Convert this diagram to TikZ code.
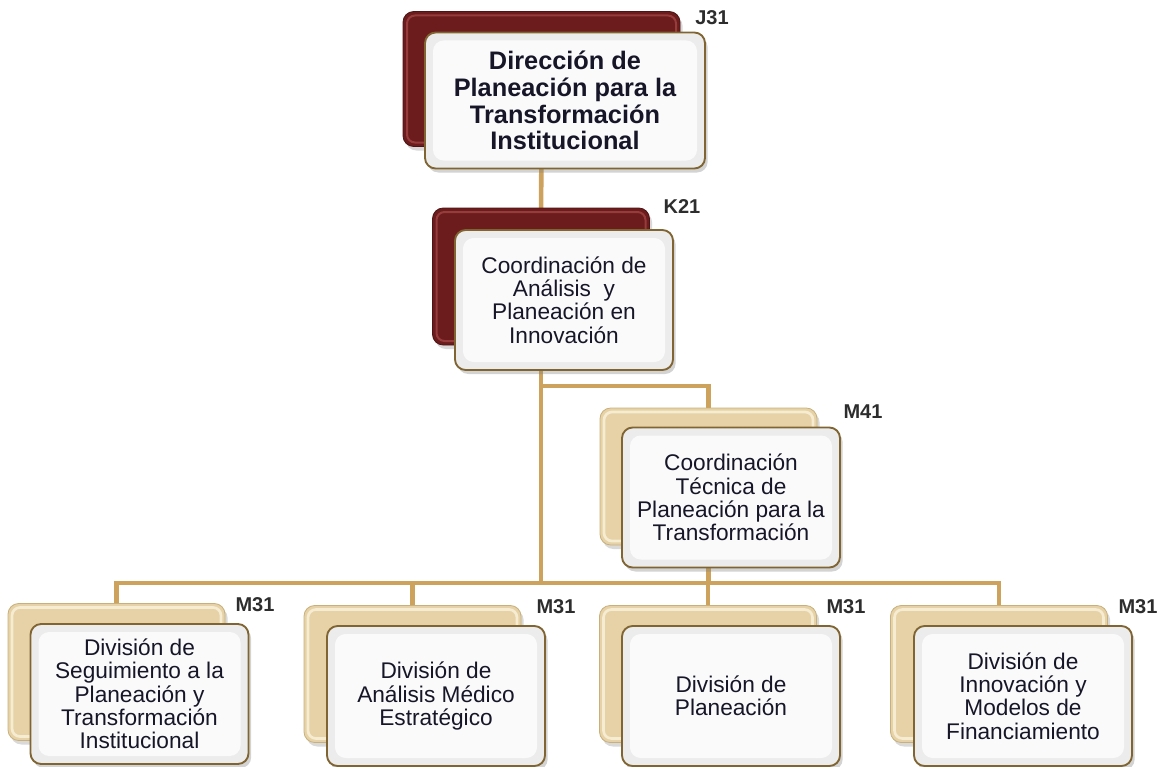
\documentclass[tikz,border=0pt]{standalone}
\usepackage{fontspec}
\setmainfont{Liberation Sans}
\usetikzlibrary{shadows}
\definecolor{conncol}{RGB}{204,162,92}
\definecolor{darkred}{RGB}{108,28,28}
\definecolor{darkredhi}{RGB}{150,60,60}
\definecolor{goldfill}{RGB}{230,210,166}
\definecolor{goldhi}{RGB}{246,236,210}
\definecolor{goldedge}{RGB}{200,176,124}
\definecolor{frontedge}{RGB}{128,100,50}
\definecolor{frontgrey}{RGB}{236,236,236}
\definecolor{frontin}{RGB}{250,250,250}
\definecolor{textcol}{RGB}{22,22,40}
\definecolor{lblcol}{RGB}{45,45,45}
\pgfdeclarelayer{bg}
\pgfsetlayers{bg,main}
\tikzset{
  conn/.style={draw=conncol, line width=3.4pt},
  backbox/.style={rounded corners=8pt, inner sep=0pt,
    minimum width=162.75pt, minimum height=102.75pt,
    drop shadow={opacity=0.3, shadow xshift=2pt, shadow yshift=-3pt}},
  redback/.style={backbox, fill=darkred, draw=darkred!70!black, line width=0.6pt,
    path picture={\draw[darkredhi, line width=1.5pt, rounded corners=6pt]
      ([shift={(3pt,-3pt)}]path picture bounding box.north west) rectangle
      ([shift={(-3pt,3pt)}]path picture bounding box.south east);}},
  goldback/.style={backbox, fill=goldfill, draw=goldedge, line width=0.6pt,
    path picture={\draw[goldhi, line width=2pt, rounded corners=6pt]
      ([shift={(3pt,-3pt)}]path picture bounding box.north west) rectangle
      ([shift={(-3pt,3pt)}]path picture bounding box.south east);}},
  frontbox/.style={rounded corners=8pt, inner sep=0pt,
    minimum width=163.5pt, minimum height=105pt,
    fill=frontgrey, draw=frontedge, line width=1.4pt,
    drop shadow={opacity=0.35, shadow xshift=2pt, shadow yshift=-3pt},
    align=center, text=textcol, font=\fontsize{17}{17.5}\selectfont,
    path picture={\fill[frontin]
      ([shift={(6pt,-6pt)}]path picture bounding box.north west) rectangle
      ([shift={(-6pt,6pt)}]path picture bounding box.south east);}},
  lbl/.style={font=\bfseries\fontsize{15}{16}\selectfont, text=lblcol, inner sep=0pt}
}
\begin{document}
\begin{tikzpicture}[x=0.75pt,y=-0.75pt]
\useasboundingbox (0,0) rectangle (1167,767);

% J31
\node[redback, minimum width=207.75pt, minimum height=101.25pt] (j31b) at (541.5,79) {};
\node[frontbox, minimum width=210pt, minimum height=102pt,
      font=\bfseries\fontsize{19}{20}\selectfont] (j31f) at (565,100.5)
  {Dirección de\\Planeación para la\\Transformación\\Institucional};
\node[lbl] (lj31) at (712,18) {J31};

% K21
\node[redback] (k21b) at (541,276.5) {};
\node[frontbox] (k21f) at (564,300)
  {Coordinación de\\Análisis\ \ y\\Planeación en\\Innovación};
\node[lbl] (lk21) at (682,207) {K21};

% M41
\node[goldback] (m41b) at (708.5,476.5) {};
\node[frontbox] (m41f) at (731,497.5)
  {Coordinación\\Técnica de\\Planeación para la\\Transformación};
\node[lbl] (lm41) at (863,412) {M41};

% M31 row
\node[goldback] (d1b) at (116.5,672) {};
\node[frontbox] (d1f) at (139.5,694)
  {División de\\Seguimiento a la\\Planeación y\\Transformación\\Institucional};
\node[lbl] (ld1) at (255,605) {M31};

\node[goldback] (d2b) at (412.5,674) {};
\node[frontbox] (d2f) at (436,696)
  {División de\\Análisis Médico\\Estratégico};
\node[lbl] (ld2) at (556,607) {M31};

\node[goldback] (d3b) at (708,674) {};
\node[frontbox] (d3f) at (731,696)
  {División de\\Planeación};
\node[lbl] (ld3) at (846,607) {M31};

\node[goldback] (d4b) at (999,674) {};
\node[frontbox] (d4f) at (1023,696)
  {División de\\Innovación y\\Modelos de\\Financiamiento};
\node[lbl] (ld4) at (1138,607) {M31};

\coordinate (busA) at (541,386);
\coordinate (busB) at (541,583);

\begin{pgfonlayer}{bg}
  \draw[conn] (j31b.center) -- (k21b.center);
  \draw[conn] (k21b.center) -- (busB);
  \draw[conn] (busA) -| (m41b.center);
  \draw[conn] (m41b.center) -- (m41b.center |- busB);
  \draw[conn] (busB) -| (d1b.center);
  \draw[conn] (busB) -| (d2b.center);
  \draw[conn] (busB) -| (d3b.center);
  \draw[conn] (busB) -| (d4b.center);
\end{pgfonlayer}
\end{tikzpicture}
\end{document}
